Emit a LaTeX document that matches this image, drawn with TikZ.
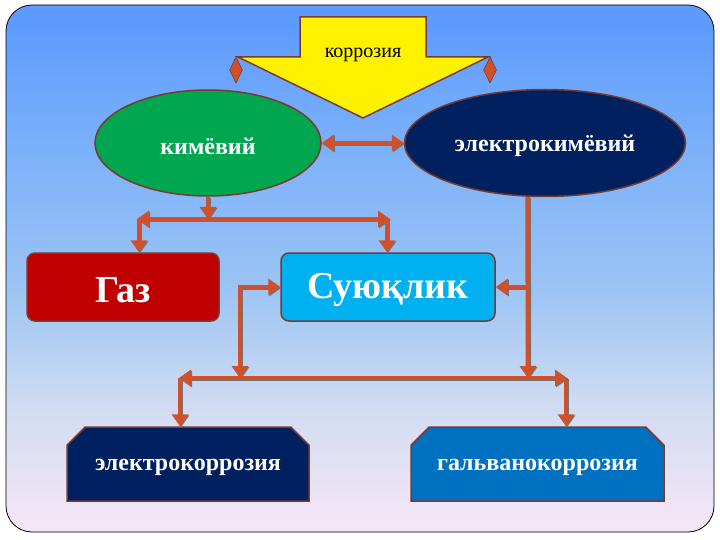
\documentclass[tikz,border=0pt]{standalone}
\usepackage{fontspec}
\setmainfont{Liberation Serif}
\usetikzlibrary{arrows.meta,shapes.geometric,shapes.misc}
\definecolor{bgtop}{HTML}{5E9BFF}
\definecolor{bgmid}{HTML}{7AB0FA}
\definecolor{bgmid2}{HTML}{9CC4F4}
\definecolor{bglow}{HTML}{D0DCF2}
\definecolor{bgbot}{HTML}{F3E6F6}
\definecolor{arrcol}{HTML}{D0502A}
\definecolor{brd}{HTML}{7A3B2E}
\definecolor{kgreen}{HTML}{00A650}
\definecolor{navy}{HTML}{002060}
\definecolor{gred}{HTML}{C00000}
\definecolor{cyanb}{HTML}{00B0F0}
\definecolor{midblue}{HTML}{0070C0}
\pgfdeclareverticalshading{bgshade}{100bp}{color(0bp)=(bgbot); color(26bp)=(bgbot); color(37bp)=(bglow); color(48bp)=(bgmid2); color(62bp)=(bgmid); color(73bp)=(bgtop); color(100bp)=(bgtop)}
\newcommand{\lowtext}[2]{\raisebox{-#1}[\height][\depth]{#2}}
\tikzset{
  conn/.style={draw=arrcol, line width=4.5pt, line cap=butt,
    arrows={-Triangle[length=12pt,width=16pt]},
    preaction={draw=black!55, line width=4.5pt, transform canvas={shift={(1pt,-1pt)}}}},
  conn2/.style={conn, arrows={Triangle[length=12pt,width=16pt]-Triangle[length=12pt,width=16pt]}},
  ell/.style={ellipse, draw=brd, line width=1.5pt, inner sep=0pt, text=white,
    font=\fontsize{24}{28}\selectfont\bfseries},
  rbox/.style={rectangle, rounded corners=8pt, draw=brd, line width=1.5pt, inner sep=0pt,
    minimum width=192pt, minimum height=68pt, text=white,
    font=\fontsize{38}{44}\selectfont\bfseries},
  cbox/.style={chamfered rectangle, chamfered rectangle corners={north west,north east},
    chamfered rectangle xsep=10pt, chamfered rectangle ysep=10pt,
    draw=brd, line width=1.5pt, inner sep=0pt, minimum height=74pt, text=white,
    font=\fontsize{24}{28}\selectfont\bfseries},
  dia/.style={diamond, draw=brd, line width=0.6pt, fill=arrcol, inner sep=0pt,
    minimum width=13pt, minimum height=26pt}
}
\begin{document}
\begin{tikzpicture}[x=1pt,y=-1pt]
\useasboundingbox (0,0) rectangle (720,540);
\path[fill=white] (0,0) rectangle (720,540);
\shade[shading=bgshade, draw=black, line width=0.8pt, rounded corners=26pt] (6,5) rectangle (714,532);
% big yellow arrow
\draw[fill=yellow, draw=brd, line width=1.5pt] (300,17) -- (426,17) -- (426,57) -- (488,57) -- (363,118) -- (238,57) -- (300,57) -- cycle;
\node[font=\fontsize{20}{24}\selectfont] (korr) at (363,55) {коррозия};
\node[dia] (d1) at (236,70) {};
\node[dia] (d2) at (490,70) {};
% ellipses
\node[ell, fill=kgreen, minimum width=226pt, minimum height=106pt] (kim) at (208,143) {\lowtext{3pt}{кимёвий}};
\node[ell, fill=navy, minimum width=281pt, minimum height=107pt] (elek) at (545,143) {\lowtext{3pt}{электрокимёвий}};
% boxes
\node[rbox, fill=gred] (gaz) at (123,287) {\lowtext{3pt}{Газ}};
\node[rbox, fill=cyanb, minimum width=214pt] (suv) at (388,287) {\lowtext{3pt}{Суюқлик}};
\node[cbox, fill=navy, minimum width=242pt] (eko) at (188,464) {\lowtext{3pt}{электрокоррозия}};
\node[cbox, fill=midblue, minimum width=253pt] (gko) at (537.5,464) {\lowtext{3pt}{гальванокоррозия}};
% coordinates
\coordinate (b1) at (208,219);
\coordinate (bL) at (137,219);
\coordinate (bR) at (390,219);
\coordinate (l1) at (240,287);
\coordinate (r1) at (528,287);
\coordinate (m1) at (240,378);
\coordinate (m2) at (528,378);
\coordinate (cL) at (179,378);
\coordinate (cR) at (567,378);
% connectors
\draw[conn2] (kim.east) -- (elek.west);
\draw[conn] (kim.south) -- (b1);
\draw[conn2] (bL) -- (bR);
\draw[conn] ([xshift=2pt]bL) -- ([xshift=2pt]bL |- gaz.north);
\draw[conn] ([xshift=-3pt]bR) -- ([xshift=-3pt]bR |- suv.north);
\draw[conn] ([xshift=-2pt]l1) -- (suv.west);
\draw[conn] (l1) -- (m1);
\draw[conn] (elek.-108) -- (m2);
\draw[conn] (r1) -- (suv.east);
\draw[conn2] (cL) -- (cR);
\draw[conn] ([xshift=1pt]cL) -- ([xshift=1pt]cL |- eko.north);
\draw[conn] ([xshift=-1pt]cR) -- ([xshift=-1pt]cR |- gko.north);
\end{tikzpicture}
\end{document}
